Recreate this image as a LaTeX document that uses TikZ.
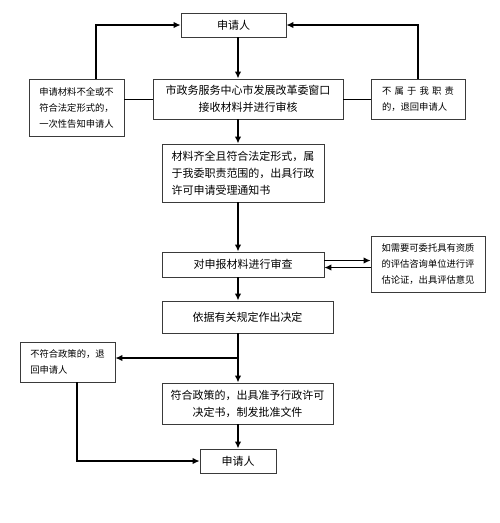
\documentclass[tikz,border=0pt]{standalone}
\usepackage{fontspec}
\setmainfont{Noto Sans CJK SC}
\usepackage{xcolor}
\definecolor{edge}{HTML}{3A3A3A}
\usetikzlibrary{arrows.meta,positioning}

\tikzset{
  box/.style={draw=edge, line width=0.9pt, inner sep=0pt, align=center,
    font=\fontsize{11}{17}\selectfont},
  note/.style={draw=edge, line width=0.9pt, inner sep=0pt, align=left,
    font=\fontsize{9.3}{16}\selectfont},
  flow/.style={-{Latex[length=7pt,width=6.5pt]}, line width=1.8pt},
  side/.style={-{Latex[length=7pt,width=6.5pt]}, line width=1.2pt},
  link/.style={line width=0.9pt},
}

\begin{document}
\begin{tikzpicture}[x=1pt, y=-1pt]
  \useasboundingbox (0,0) rectangle (500,523);

  % Boxes
  \node[box, minimum width=105pt, minimum height=24pt] (app1) at (233.5,25) {申请人};
  \node[note, minimum width=95pt, minimum height=57pt] (incompl) at (76.5,107.5)
    {申请材料不全或不\\符合法定形式的，\\一次性告知申请人};
  \node[box, minimum width=190pt, minimum height=40pt] (window) at (248,99)
    {市政务服务中心市发展改革委窗口\\接收材料并进行审核};
  \node[note, minimum width=94pt, minimum height=40pt] (notours) at (418,99)
    {\makebox[72pt][s]{不\hfill 属\hfill 于\hfill 我\hfill 职\hfill 责}\\的，退回申请人};
  \node[box, align=left, minimum width=162pt, minimum height=58pt] (accept) at (243,173)
    {材料齐全且符合法定形式，属\\于我委职责范围的，出具行政\\许可申请受理通知书};
  \node[box, minimum width=162pt, minimum height=25pt] (review) at (243,264.5)
    {对申报材料进行审查};
  \node[note, minimum width=114pt, minimum height=56pt] (assess) at (428,264)
    {如需要可委托具有资质\\的评估咨询单位进行评\\估论证，出具评估意见};
  \node[box, minimum width=171pt, minimum height=32pt] (decide) at (247.5,317)
    {依据有关规定作出决定};
  \node[note, minimum width=95pt, minimum height=40pt] (reject) at (67.5,362)
    {不符合政策的，退\\回申请人};
  \node[box, minimum width=171pt, minimum height=41pt] (grant) at (247.5,403.5)
    {符合政策的，出具准予行政许可\\决定书，制发批准文件};
  \node[box, minimum width=76pt, minimum height=24pt] (app2) at (238,461) {申请人};

  % Helper coordinates
  \coordinate (spine) at (238,0);
  \coordinate (lup) at (96,0);
  \coordinate (rdown) at (77,0);
  \coordinate (fork) at (238,358);

  % Main line
  \draw[flow] (app1.south -| spine) -- (window.north -| spine);
  \draw[flow] (window.south -| spine) -- (accept.north -| spine);
  \draw[flow] (accept.south -| spine) -- (review.north -| spine);
  \draw[flow] (review.south -| spine) -- (decide.north -| spine);
  \draw[flow] (decide.south -| spine) -- (grant.north -| spine);
  \draw[flow] (grant.south -| spine) -- (app2.north -| spine);

  % Returns to the applicant
  \draw[link] (incompl.east |- window.west) -- (window.west);
  \draw[link] (window.east) -- (notours.west);
  \draw[side] (incompl.north -| lup) |- (app1.west);
  \draw[side] (notours.north) |- (app1.east);

  % Assessment
  \draw[side] ([yshift=4pt]review.east) -- ([yshift=4pt]review.east -| assess.west);
  \draw[side] ([yshift=-3pt]assess.west |- review.east) -- ([yshift=-3pt]review.east);

  % Decision
  \draw[side] (fork) -- (fork -| reject.east);
  \draw[side] (reject.south -| rdown) |- (app2.west);
\end{tikzpicture}
\end{document}
